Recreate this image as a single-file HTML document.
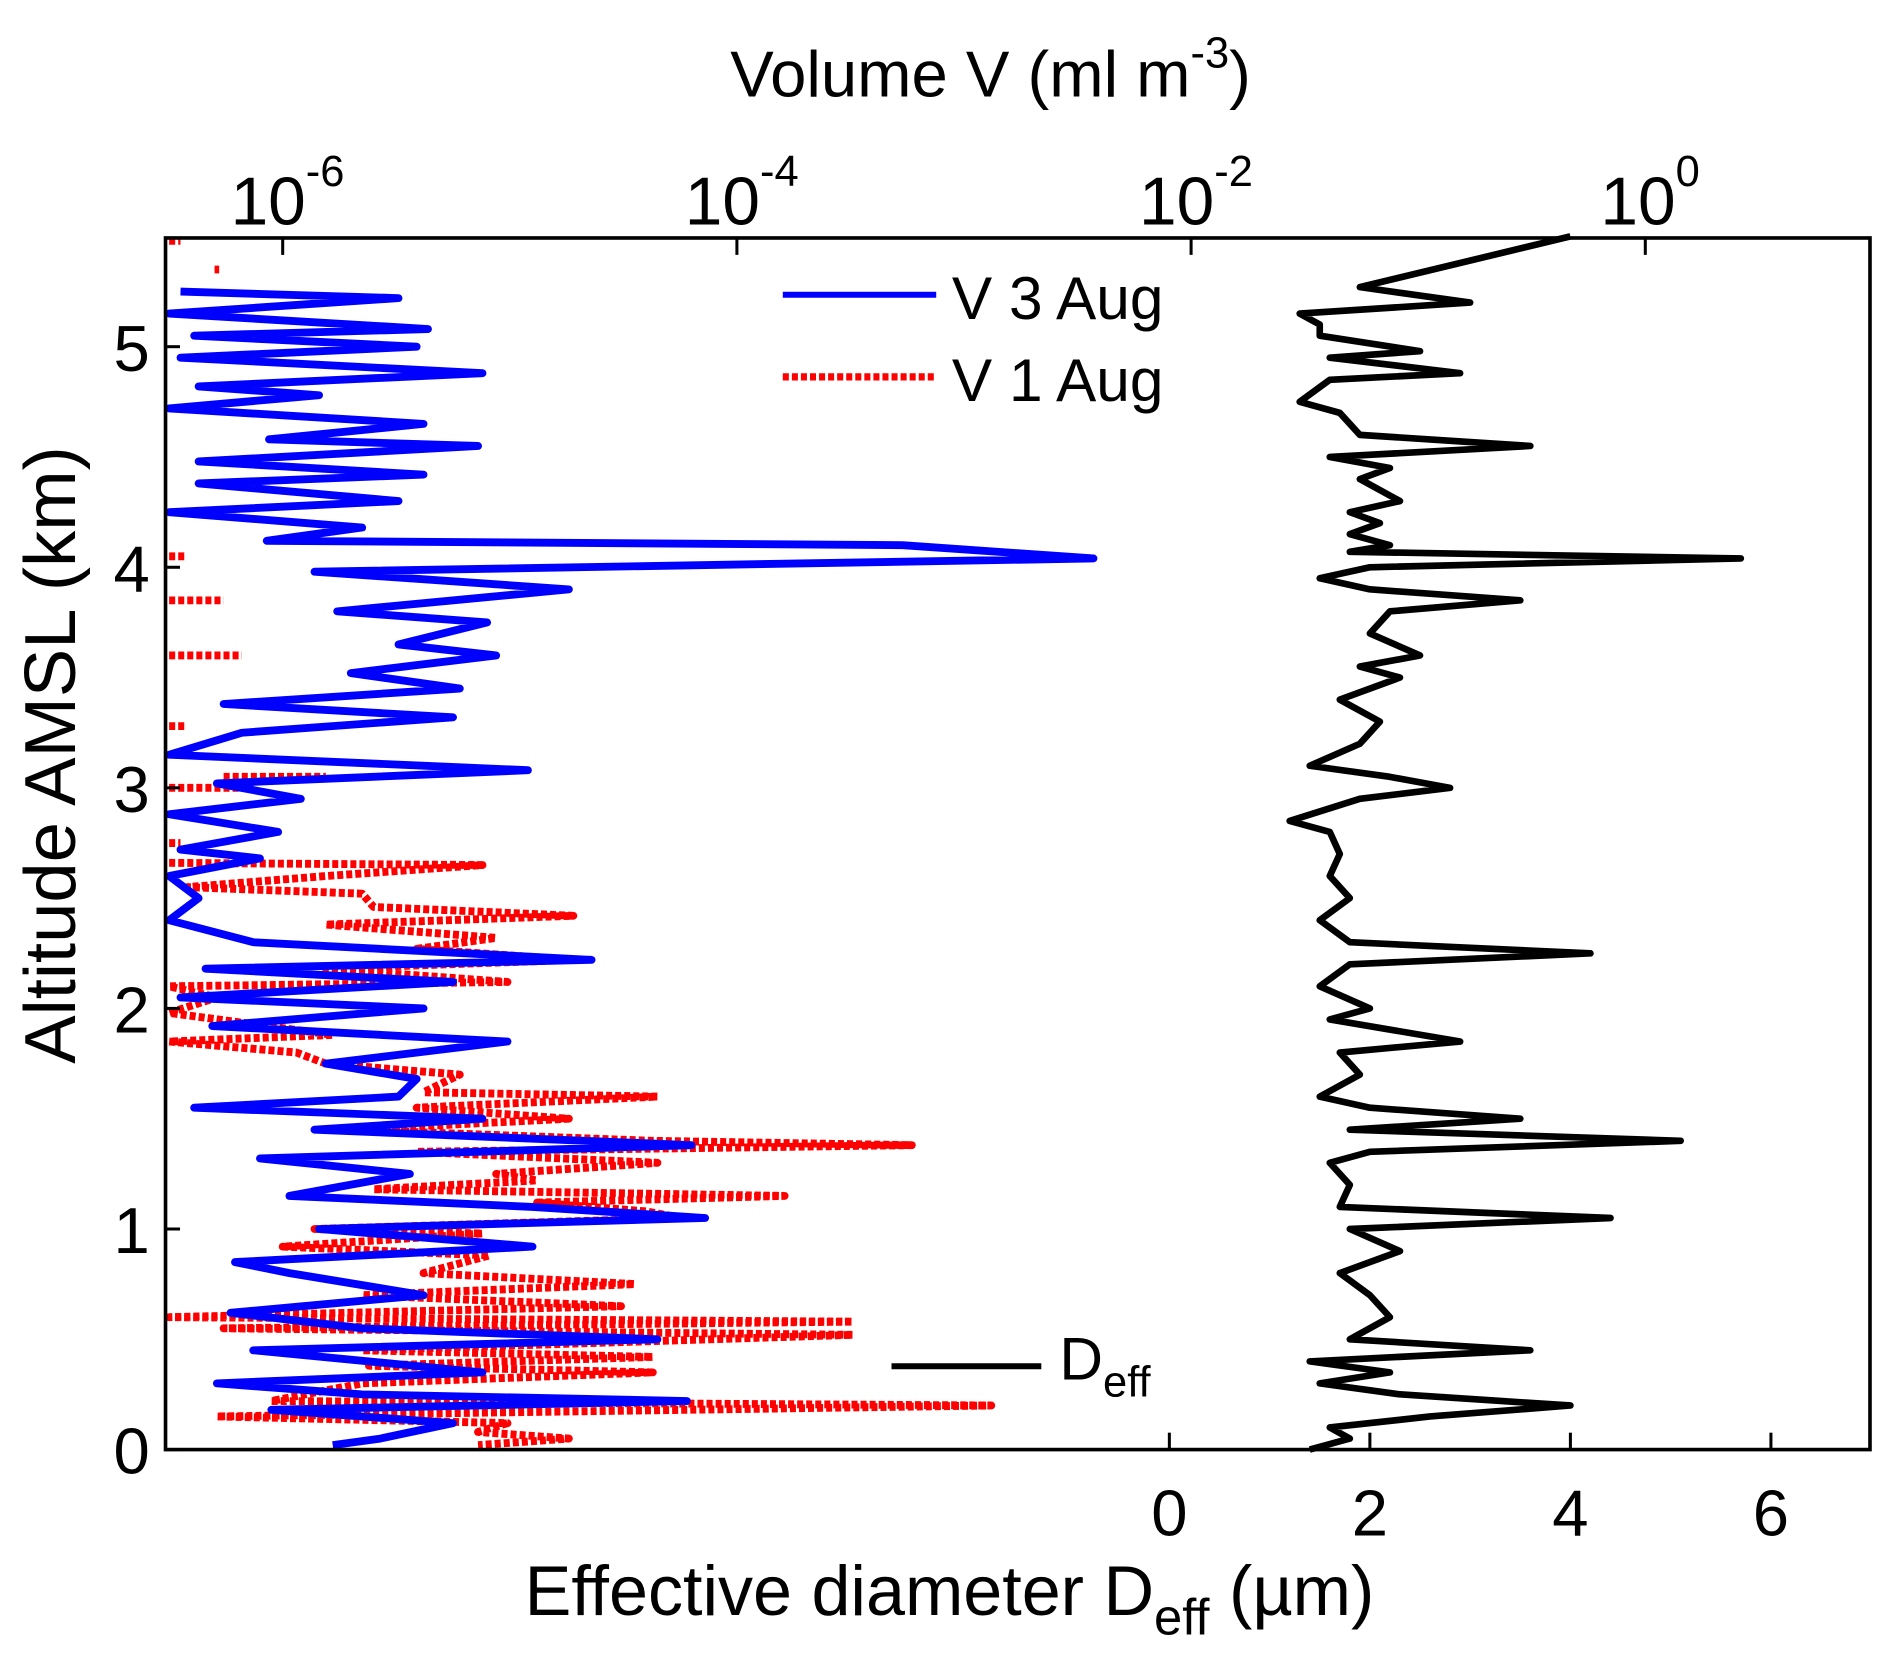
<!DOCTYPE html>
<html><head><meta charset="utf-8">
<style>
html,body{margin:0;padding:0;background:#fff;}
svg{display:block;font-family:"Liberation Sans",Arial,sans-serif;}
</style></head>
<body>
<svg id="chart" width="1892" height="1653" viewBox="0 0 1566.2 1368.4" xmlns="http://www.w3.org/2000/svg">
<g id="marks"></g>
<g id="axes"></g>
</svg>
<script>
// ---- data ----
const yTicks = [0, 1, 2, 3, 4, 5];
const topTickExps = [-6, -4, -2, 0];
const bottomTicks = [0, 2, 4, 6];

// Deff profile (µm) vs altitude (km)
const deffAlt = [5.5,5.27,5.2,5.15,5.1,5.05,4.98,4.95,4.88,4.85,4.75,4.7,4.6,4.55,4.5,4.45,4.4,4.3,4.25,4.2,4.15,4.1,4.07,4.04,4.0,3.95,3.9,3.85,3.8,3.7,3.6,3.55,3.5,3.4,3.3,3.2,3.1,3.05,3.0,2.95,2.85,2.8,2.7,2.6,2.5,2.4,2.3,2.25,2.2,2.1,2.0,1.95,1.85,1.8,1.7,1.6,1.55,1.5,1.45,1.4,1.35,1.3,1.2,1.1,1.05,1.0,0.9,0.8,0.7,0.6,0.5,0.45,0.4,0.35,0.3,0.25,0.2,0.15,0.1,0.05,0.0];
const deffVal = [4.0,1.9,3.0,1.3,1.5,1.5,2.5,1.6,2.9,1.6,1.3,1.7,1.9,3.6,1.6,2.2,1.9,2.3,1.8,2.1,1.8,2.2,1.8,5.7,2.0,1.5,2.0,3.5,2.2,2.0,2.5,1.9,2.3,1.7,2.1,1.9,1.4,2.2,2.8,1.9,1.2,1.6,1.7,1.6,1.8,1.5,1.8,4.2,1.8,1.5,2.0,1.6,2.9,1.7,1.9,1.5,2.0,3.5,1.8,5.1,2.0,1.6,1.8,1.7,4.4,1.8,2.3,1.7,2.0,2.2,1.8,3.6,1.4,2.2,1.5,2.3,4.0,2.6,1.6,1.8,1.4];

// V 3 Aug: log10(V / ml m^-3) vs altitude (km)
const v3Alt = [5.25,5.22,5.15,5.08,5.05,5.0,4.95,4.88,4.82,4.78,4.72,4.65,4.58,4.55,4.48,4.42,4.38,4.3,4.25,4.18,4.12,4.1,4.04,3.98,3.9,3.8,3.75,3.65,3.6,3.52,3.45,3.38,3.32,3.25,3.15,3.08,3.02,2.95,2.88,2.8,2.72,2.68,2.6,2.5,2.4,2.3,2.22,2.18,2.12,2.05,2.0,1.92,1.85,1.75,1.68,1.6,1.55,1.5,1.45,1.38,1.32,1.25,1.15,1.1,1.05,1.0,0.92,0.85,0.8,0.7,0.62,0.55,0.5,0.45,0.35,0.3,0.25,0.22,0.18,0.12,0.05,0.02];
const v3LogV = [-6.45,-5.49,-6.5,-5.36,-6.39,-5.41,-6.45,-5.12,-6.37,-5.84,-6.5,-5.38,-6.06,-5.14,-6.37,-5.38,-6.37,-5.49,-6.5,-5.65,-6.07,-3.27,-2.43,-5.86,-4.74,-5.76,-5.1,-5.49,-5.06,-5.7,-5.22,-6.26,-5.25,-6.18,-6.5,-4.92,-6.29,-5.92,-6.5,-6.02,-6.45,-6.1,-6.5,-6.37,-6.5,-6.13,-4.64,-6.34,-5.25,-6.45,-5.38,-6.31,-5.01,-5.81,-5.41,-5.49,-6.39,-5.12,-5.86,-4.2,-6.1,-5.44,-5.97,-4.9,-4.14,-5.84,-4.9,-6.21,-5.97,-5.38,-6.23,-5.65,-4.35,-6.13,-5.12,-6.29,-5.65,-4.22,-6.05,-5.25,-5.57,-5.78];

// V 1 Aug: log10(V) vs altitude; null = data gap
const v1Alt = [5.48,5.48,null,5.35,5.35,null,4.05,4.05,null,3.85,3.85,null,3.6,3.6,null,3.28,3.28,null,3.05,3.05,null,3.0,3.0,null,2.75,2.75,null,2.66,2.65,2.6,2.55,2.52,2.46,2.42,2.38,2.32,2.27,2.22,2.18,2.12,2.1,2.05,1.98,1.88,1.85,1.8,1.75,1.7,1.62,1.6,1.55,1.5,1.45,1.4,1.38,1.35,1.3,1.25,1.22,1.18,1.15,1.12,1.08,1.05,1.0,0.98,0.92,0.88,0.8,0.75,0.7,0.65,0.6,0.58,0.55,0.52,0.45,0.42,0.38,0.35,0.3,0.22,0.2,0.15,0.12,0.08,0.05,0.02];
const v1LogV = [-6.5,-6.45,null,-6.3,-6.28,null,-6.5,-6.42,null,-6.5,-6.26,null,-6.5,-6.18,null,-6.5,-6.42,null,-6.26,-5.81,null,-6.5,-6.13,null,-6.5,-6.45,null,-6.5,-5.12,-5.81,-6.42,-5.65,-5.6,-4.72,-5.81,-5.06,-5.41,-4.72,-5.81,-5.01,-6.5,-6.29,-6.5,-5.78,-6.5,-5.94,-5.81,-5.22,-5.38,-4.35,-5.41,-4.74,-5.7,-4.37,-3.23,-5.41,-4.35,-5.06,-4.88,-5.6,-3.79,-4.88,-4.4,-4.24,-5.86,-5.12,-6.0,-5.09,-5.38,-4.45,-5.65,-4.51,-6.5,-3.49,-6.26,-3.49,-5.65,-4.37,-5.62,-4.37,-5.65,-6.05,-2.88,-6.29,-5.01,-5.14,-4.74,-5.14];

// ---- axes (display coords, viewBox) ----
const L = 137, R = 1548, T = 197, B = 1200;
const yScale = a => B - a * 182.6;
const logScale = e => 234 + (e + 6) * 188;
const dScale = d => 968 + d * 83;

const NS = "http://www.w3.org/2000/svg";
function mk(tag, attrs, parent, text) {
  const el = document.createElementNS(NS, tag);
  for (const k in attrs) el.setAttribute(k, attrs[k]);
  if (text !== undefined) el.textContent = text;
  parent.appendChild(el);
  return el;
}
const marks = document.getElementById('marks');
const axes = document.getElementById('axes');

function pathFrom(alts, vals, xf) {
  let d = '', pen = false;
  for (let i = 0; i < alts.length; i++) {
    if (alts[i] === null || vals[i] === null) { pen = false; continue; }
    const x = Math.max(L, Math.min(R, xf(vals[i]))), y = yScale(alts[i]);
    d += (pen ? 'L' : 'M') + x.toFixed(1) + ' ' + y.toFixed(1) + ' ';
    pen = true;
  }
  return d;
}

const red = mk('path', {d: pathFrom(v1Alt, v1LogV, logScale), fill: 'none', stroke: '#ff0000', 'stroke-width': 6.5, 'stroke-dasharray': '5 2.5', 'stroke-linejoin': 'round'}, marks);


const blue = mk('path', {d: pathFrom(v3Alt, v3LogV, logScale), fill: 'none', stroke: '#0000ff', 'stroke-width': 6.5, 'stroke-linejoin': 'round'}, marks);


const blk = mk('path', {d: pathFrom(deffAlt, deffVal, dScale), fill: 'none', stroke: '#000', 'stroke-width': 5.5, 'stroke-linejoin': 'round'}, marks);



// frame
const frame = mk('rect', {x: L, y: T, width: R - L, height: B - T, fill: 'none', stroke: '#000', 'stroke-width': 3}, axes);



// y ticks
yTicks.forEach(v => {
  const y = yScale(v);
  const t = mk('line', {x1: L, x2: L + 12, y1: y, y2: y, stroke: '#000', 'stroke-width': 2.5}, axes);
  
  
  const lb = mk('text', {x: 124, y: y + 20, 'font-size': 54, 'text-anchor': 'end'}, axes, String(v));
  
  
});
// top log ticks
topTickExps.forEach(e => {
  const x = logScale(e);
  const t = mk('line', {x1: x, x2: x, y1: T, y2: T + 14, stroke: '#000', 'stroke-width': 2.5}, axes);
  
  
  const lb = mk('text', {x: x + 4, y: 186, 'font-size': 56, 'text-anchor': 'middle'}, axes);
  
  
  mk('tspan', {}, lb, '10');
  mk('tspan', {dy: -32, 'font-size': 36}, lb, String(e));
});
// bottom linear ticks
bottomTicks.forEach(v => {
  const x = dScale(v);
  const t = mk('line', {x1: x, x2: x, y1: B, y2: B - 14, stroke: '#000', 'stroke-width': 2.5}, axes);
  
  
  const lb = mk('text', {x: x, y: 1271, 'font-size': 54, 'text-anchor': 'middle'}, axes, String(v));
  
  
});

// titles
const tt = mk('text', {x: 820, y: 80, 'font-size': 54, 'text-anchor': 'middle'}, axes);


mk('tspan', {}, tt, 'Volume V (ml m');
mk('tspan', {dy: -24, 'font-size': 36}, tt, '-3');
mk('tspan', {dy: 24}, tt, ')');

const bt = mk('text', {x: 786, y: 1337, 'font-size': 58, 'text-anchor': 'middle'}, axes);


mk('tspan', {}, bt, 'Effective diameter D');
mk('tspan', {dy: 16, 'font-size': 42}, bt, 'eff');
mk('tspan', {dy: -16}, bt, ' (µm)');

const yt = mk('text', {x: 0, y: 0, 'font-size': 60, 'text-anchor': 'middle', transform: 'translate(62,625) rotate(-90)'}, axes, 'Altitude AMSL (km)');



// legend
const lg = mk('g', {}, axes);


const l1 = mk('line', {x1: 648, x2: 775, y1: 244, y2: 244, stroke: '#0000ff', 'stroke-width': 5}, lg);


const t1 = mk('text', {x: 788, y: 264, 'font-size': 50}, lg, 'V 3 Aug');


const l2 = mk('line', {x1: 648, x2: 775, y1: 312, y2: 312, stroke: '#ff0000', 'stroke-width': 6, 'stroke-dasharray': '5 2.5'}, lg);


const t2 = mk('text', {x: 788, y: 332, 'font-size': 50}, lg, 'V 1 Aug');


const l3 = mk('line', {x1: 738, x2: 862, y1: 1131, y2: 1131, stroke: '#000', 'stroke-width': 5}, lg);


const t3 = mk('text', {x: 877, y: 1142, 'font-size': 50}, lg);


mk('tspan', {}, t3, 'D');
mk('tspan', {dy: 14, 'font-size': 36}, t3, 'eff');
</script>
</body></html>
